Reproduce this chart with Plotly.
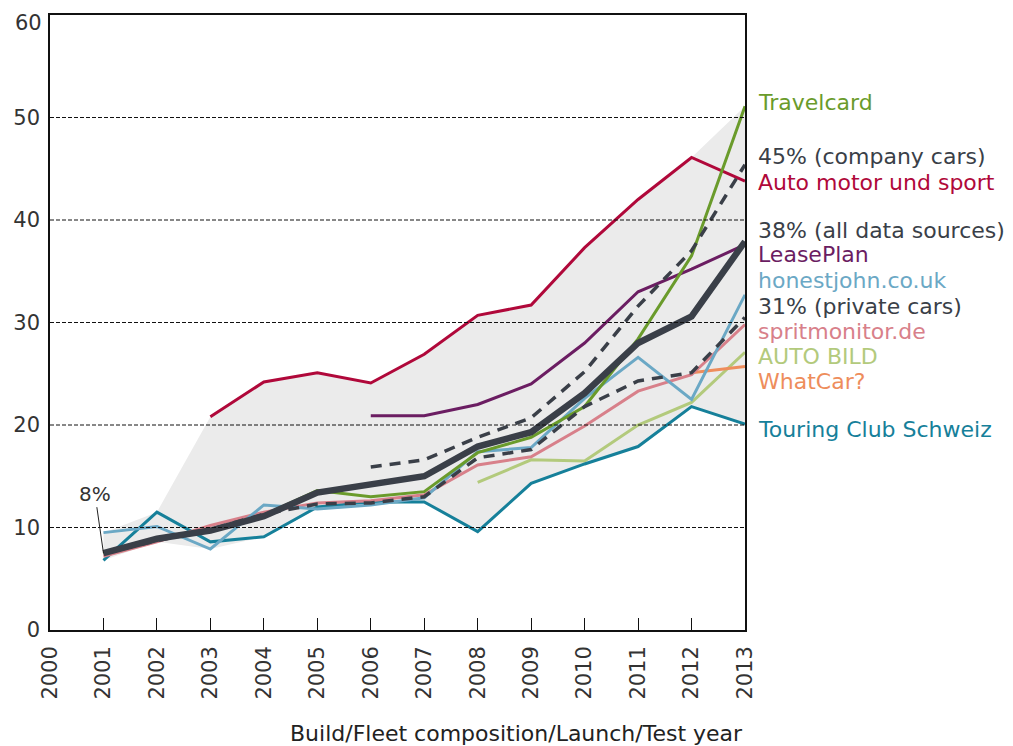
import plotly.graph_objects as go

years = list(range(2000, 2014))
year_labels = [str(y) for y in years]

# series values
auto_motor_years = [2003, 2004, 2005, 2006, 2007, 2008, 2009, 2010, 2011, 2012, 2013]
auto_motor = [20.8, 24.2, 25.1, 24.1, 26.9, 30.7, 31.7, 37.3, 42.0, 46.1, 43.8]

leaseplan_years = [2006, 2007, 2008, 2009, 2010, 2011, 2012, 2013]
leaseplan = [20.9, 20.9, 22.0, 24.0, 28.0, 33.0, 35.2, 37.6]

travelcard_years = [2001, 2002, 2003, 2004, 2005, 2006, 2007, 2008, 2009, 2010, 2011, 2012, 2013]
travelcard = [7.5, 8.9, 9.7, 11.2, 13.6, 13.0, 13.5, 17.3, 18.8, 21.8, 28.4, 36.5, 51.1]

honestjohn_years = [2001, 2002, 2003, 2004, 2005, 2006, 2007, 2008, 2009, 2010, 2011, 2012, 2013]
honestjohn = [9.5, 10.1, 7.9, 12.2, 11.8, 12.2, 12.9, 17.4, 17.8, 22.6, 26.6, 22.5, 32.7]

spritmonitor_years = [2001, 2002, 2003, 2004, 2005, 2006, 2007, 2008, 2009, 2010, 2011, 2012, 2013]
spritmonitor = [7.2, 8.6, 10.2, 11.5, 12.4, 12.6, 13.2, 16.1, 16.9, 19.9, 23.3, 24.9, 29.8]

autobild_years = [2008, 2009, 2010, 2011, 2012, 2013]
autobild = [14.4, 16.6, 16.5, 20.0, 22.2, 27.1]

whatcar_years = [2012, 2013]
whatcar = [25.1, 25.7]

touring_years = [2001, 2002, 2003, 2004, 2005, 2006, 2007, 2008, 2009, 2010, 2011, 2012, 2013]
touring = [6.8, 11.5, 8.6, 9.1, 12.0, 12.5, 12.5, 9.6, 14.3, 16.2, 17.9, 21.8, 20.1]

private_years = [2001, 2002, 2003, 2004, 2005, 2006, 2007, 2008, 2009, 2010, 2011, 2012, 2013]
private_cars = [7.5, 8.7, 9.8, 11.3, 12.3, 12.4, 13.0, 16.8, 17.6, 21.8, 24.3, 25.1, 30.5]

company_years = [2006, 2007, 2008, 2009, 2010, 2011, 2012, 2013]
company_cars = [15.9, 16.6, 18.8, 20.7, 25.2, 31.6, 37.0, 45.4]

all_years = [2001, 2002, 2003, 2004, 2005, 2006, 2007, 2008, 2009, 2010, 2011, 2012, 2013]
all_sources = [7.5, 8.9, 9.7, 11.1, 13.4, 14.2, 15.0, 17.9, 19.3, 23.1, 28.0, 30.6, 37.9]

grid_values = [10, 20, 30, 40, 50]
y_ticks = [0, 10, 20, 30, 40, 50]
y_top = 60

# right-hand labels and their vertical positions (data units)
labels = ["Travelcard", "45% (company cars)", "Auto motor und sport", "38% (all data sources)",
          "LeasePlan", "honestjohn.co.uk", "31% (private cars)", "spritmonitor.de",
          "AUTO BILD", "WhatCar?", "Touring Club Schweiz"]
label_y = [51.5, 46.2, 43.7, 39.0, 36.6, 34.1, 31.6, 29.1, 26.7, 24.2, 19.6]

C_CRIMSON = "#b0083a"
C_PURPLE = "#6b1d62"
C_GREEN = "#6a9b2b"
C_DARK = "#3a3f48"
C_LBLUE = "#6ba8c5"
C_PINK = "#d8808a"
C_LGREEN = "#b3ca7c"
C_ORANGE = "#ee8d5c"
C_TEAL = "#16809a"
label_colors = [C_GREEN, C_DARK, C_CRIMSON, C_DARK, C_PURPLE, C_LBLUE, C_DARK, C_PINK,
                C_LGREEN, C_ORANGE, C_TEAL]

FONT = "DejaVu Sans"

series = [
    (auto_motor_years, auto_motor, C_CRIMSON, 3, "solid"),
    (leaseplan_years, leaseplan, C_PURPLE, 3, "solid"),
    (autobild_years, autobild, C_LGREEN, 3, "solid"),
    (touring_years, touring, C_TEAL, 3, "solid"),
    (whatcar_years, whatcar, C_ORANGE, 3, "solid"),
    (spritmonitor_years, spritmonitor, C_PINK, 3, "solid"),
    (honestjohn_years, honestjohn, C_LBLUE, 3, "solid"),
    (travelcard_years, travelcard, C_GREEN, 3, "solid"),
    (private_years, private_cars, C_DARK, 3.5, "11px,8px"),
    (company_years, company_cars, C_DARK, 3.5, "11px,8px"),
    (all_years, all_sources, C_DARK, 6.5, "solid"),
]

# envelope (range) of all series
env_hi, env_lo, env_x = [], [], []
for yr in range(2001, 2014):
    vals = [ys[xs.index(yr)] for xs, ys, *_ in series if yr in xs]
    env_x.append(yr)
    env_hi.append(max(vals))
    env_lo.append(min(vals))

fig = go.Figure()
fig.add_trace(go.Scatter(x=env_x, y=env_hi, mode="lines", line=dict(width=0), hoverinfo="skip"))
fig.add_trace(go.Scatter(x=env_x, y=env_lo, mode="lines", line=dict(width=0), fill="tonexty",
                         fillcolor="#ebebeb", hoverinfo="skip"))

for v in grid_values:
    fig.add_shape(type="line", xref="paper", x0=0, x1=1, yref="y", y0=v, y1=v,
                  line=dict(color="#111111", width=1, dash="4px,2px"), layer="above")

for xs, ys, col, w, dash in series:
    fig.add_trace(go.Scatter(x=xs, y=ys, mode="lines",
                             line=dict(color=col, width=w, dash=dash)))

for txt, yv, col in zip(labels, label_y, label_colors):
    fig.add_annotation(x=1, xref="paper", xanchor="left", xshift=11, y=yv, yref="y",
                       text=txt, showarrow=False,
                       font=dict(color=col, size=22, family=FONT))

# top y tick label (sits slightly below the top edge)
fig.add_annotation(x=0, xref="paper", xanchor="right", xshift=-6, y=y_top, yref="y",
                   yshift=-8, text=str(y_top), showarrow=False,
                   font=dict(color="#333", size=21, family=FONT))

fig.add_annotation(x=2001, y=all_sources[0], xref="x", yref="y",
                   ax=2000.84, ay=13.3, axref="x", ayref="y",
                   text="8%", showarrow=True, arrowhead=0, arrowwidth=1, arrowcolor="#222",
                   font=dict(color="#333", size=20, family=FONT))

fig.add_annotation(x=1, xref="paper", xanchor="right", y=0, yref="paper", yshift=-103,
                   yanchor="middle",
                   text="Build/Fleet composition/Launch/Test year", showarrow=False,
                   font=dict(color="#222", size=22, family=FONT))

fig.update_layout(
    width=1005, height=738,
    margin=dict(l=42, r=268, t=7, b=116, autoexpand=False),
    plot_bgcolor="white", paper_bgcolor="white",
    showlegend=False,
    xaxis=dict(range=[2000, 2013], tickvals=years, ticktext=year_labels, tickangle=-90,
               showgrid=False, zeroline=False, showline=True, linecolor="#111", linewidth=1.5,
               mirror=True, automargin=False, ticklabelstandoff=6,
               ticks="inside", ticklen=12, tickcolor="#111",
               tickfont=dict(size=21, family=FONT, color="#333")),
    yaxis=dict(range=[0, y_top], tickvals=y_ticks, showgrid=False, zeroline=False,
               showline=True, linecolor="#111", linewidth=1.5, mirror=True, ticks="",
               automargin=False, ticklabelstandoff=4,
               tickfont=dict(size=21, family=FONT, color="#333")),
)

fig.write_html("out.html")
